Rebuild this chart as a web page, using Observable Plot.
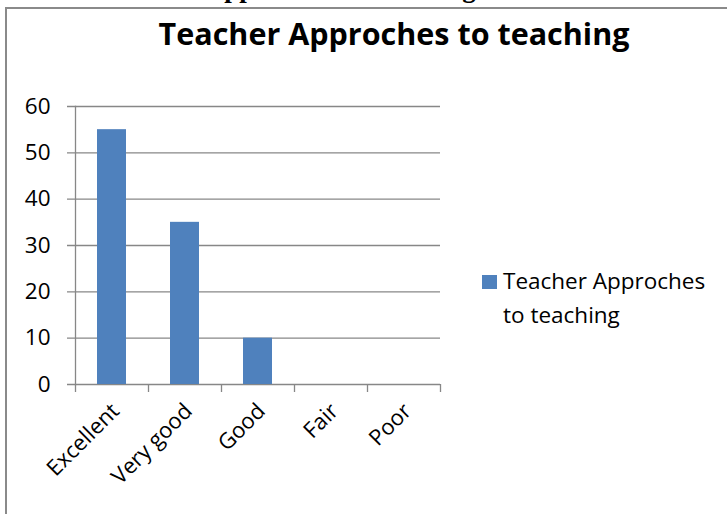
<!DOCTYPE html>
<html>
<head>
<meta charset="utf-8">
<script src="https://cdn.jsdelivr.net/npm/d3@7"></script>
<script src="https://cdn.jsdelivr.net/npm/@observablehq/plot@0.6"></script>
<style>
  html, body { margin: 0; padding: 0; background: #fff; }
  #wrap { position: relative; width: 727px; height: 514px; overflow: hidden; font-family: "Open Sans", sans-serif; }
  #frame { position: absolute; left: 5px; top: 7px; width: 800px; height: 600px; border: 2px solid #8a8a8a; box-sizing: border-box; }
  #chart { position: absolute; left: 0; top: 0; }
  #overlay { position: absolute; left: 0; top: 0; pointer-events: none; }
</style>
</head>
<body>
<div id="wrap">
  <div id="frame"></div>
  <div id="chart"></div>
  <svg id="overlay" width="727" height="514"></svg>
</div>
<script>
const categories = ["Excellent", "Very good", "Good", "Fair", "Poor"];
const values = [55, 35, 10, 0, 0];
const yTicks = [0, 10, 20, 30, 40, 50, 60];
const seriesName = "Teacher Approches to teaching";
const titleText = "Teacher Approches to teaching";
const captionAbove = "Teacher Approaches to teaching";

const barColor = "#4F81BD";
const gridColor = "#878787";
const font = "'Open Sans', sans-serif";
const W = 727, H = 514;
const mL = 75, mR = 287, mT = 106, mB = 130;
const step = (W - mL - mR) / categories.length;

const data = categories.map((c, i) => ({category: c, value: values[i]}));

const chart = Plot.plot({
  width: W,
  height: H,
  marginLeft: mL,
  marginRight: mR,
  marginTop: mT,
  marginBottom: mB,
  style: {background: "transparent", fontFamily: font, overflow: "visible"},
  x: {domain: categories, paddingInner: 0.6, paddingOuter: 0.3, axis: null},
  y: {domain: [0, 60], axis: null},
  marks: [
    Plot.ruleY(yTicks, {y: d => d, stroke: gridColor, strokeWidth: 1.3, insetLeft: -8}),
    Plot.frame({anchor: "left", stroke: gridColor, strokeWidth: 1.3}),
    Plot.barY(data, {x: "category", y: "value", fill: barColor}),
    Plot.ruleX(categories, {x: d => d, y1: 0, y2: 0, dx: -step / 2, insetBottom: -8, stroke: gridColor, strokeWidth: 1.3}),
    Plot.ruleX(categories.slice(-1), {x: d => d, y1: 0, y2: 0, dx: step / 2, insetBottom: -8, stroke: gridColor, strokeWidth: 1.3}),
    Plot.text(yTicks, {frameAnchor: "left", y: d => d, text: d => String(d), textAnchor: "end", dx: -25, fontSize: 22.5, fill: "#000"}),
    Plot.text(categories, {x: d => d, y: 0, text: d => d, rotate: -45, textAnchor: "end", lineAnchor: "bottom", dx: 8.5, dy: 28, fontSize: 22, fill: "#000"})
  ]
});
document.getElementById("chart").appendChild(chart);

const ov = d3.select("#overlay");
ov.append("text")
  .attr("x", 108).attr("y", -3)
  .attr("font-family", "'Liberation Serif', 'Times New Roman', serif")
  .attr("font-size", 27).attr("font-weight", "bold")
  .text(captionAbove);
ov.append("text")
  .attr("x", 394).attr("y", 45)
  .attr("text-anchor", "middle")
  .attr("font-family", font)
  .attr("font-weight", "bold").attr("font-size", 30.5)
  .text(titleText);
ov.append("rect")
  .attr("x", 482).attr("y", 275).attr("width", 15).attr("height", 14)
  .attr("fill", barColor);
const words = seriesName.split(" ");
const lines = [words.slice(0, 2).join(" "), words.slice(2).join(" ")];
ov.selectAll("text.leg").data(lines).join("text")
  .attr("class", "leg")
  .attr("x", 503).attr("y", (d, i) => 289 + i * 34)
  .attr("font-family", font)
  .attr("font-size", 22.5)
  .text(d => d);
</script>
</body>
</html>
